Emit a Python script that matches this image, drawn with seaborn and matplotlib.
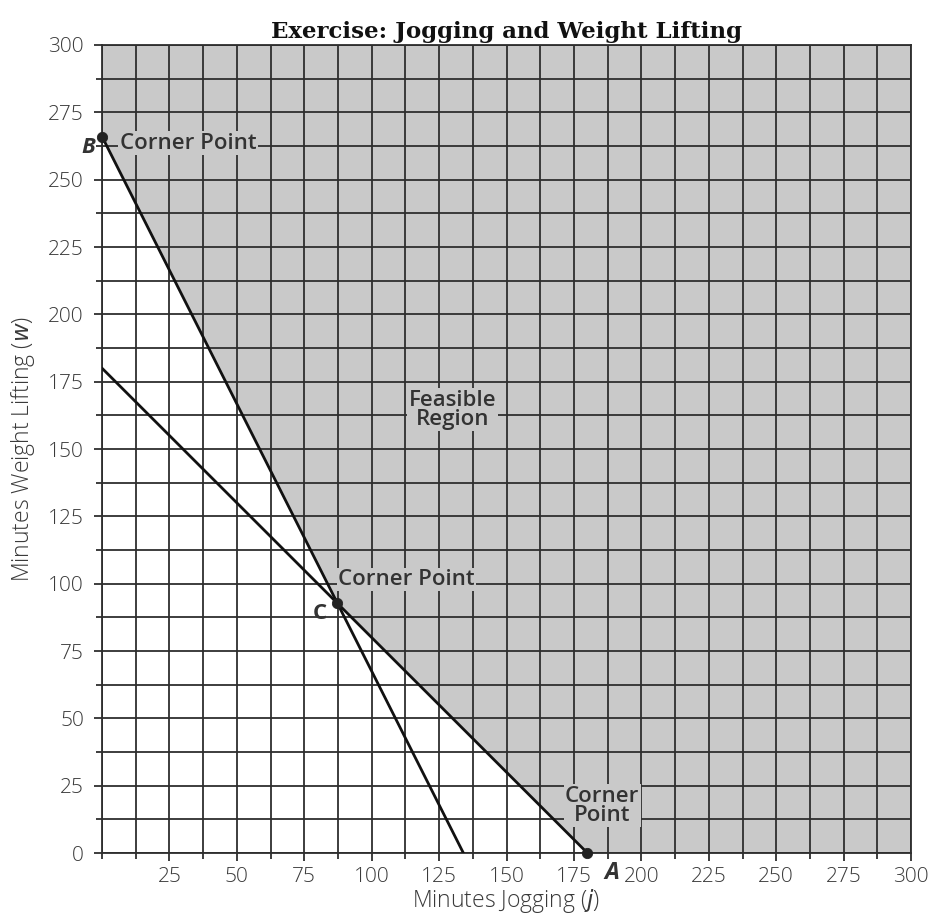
import numpy as np
import pandas as pd
import matplotlib
matplotlib.use("Agg")
import matplotlib.pyplot as plt
from matplotlib.ticker import MultipleLocator
import seaborn as sns

# Constraint lines (minutes jogging j, minutes weight lifting w)
line1_j = [0, 134]
line1_w = [266, 0]
line2_j = [0, 180]
line2_w = [180, 0]

# Corner points of the feasible region
corner_names = ["A", "B", "C"]
corner_j = [180, 0, 87]
corner_w = [0, 266, 93]

x_ticks = [25, 50, 75, 100, 125, 150, 175, 200, 225, 250, 275, 300]
y_ticks = [0, 25, 50, 75, 100, 125, 150, 175, 200, 225, 250, 275, 300]

SHADE = "#c9c9c9"
GRID = "#2e2e2e"
TXT = "#3a3a3a"

sns.set_theme(style="white")
plt.rcParams["font.family"] = ["Open Sans", "DejaVu Sans"]

fig = plt.figure(figsize=(9.37, 9.22), dpi=100)
ax = fig.add_axes([0.1089, 0.0748, 0.8634, 0.8764])

# Feasible region: above both constraint lines
bj = [corner_j[1], corner_j[2], corner_j[0], 300]
bw = [corner_w[1], corner_w[2], corner_w[0], 0]
ax.fill_between(bj, bw, 300, color=SHADE, linewidth=0, zorder=0)

ax.set_xlim(0, 300)
ax.set_ylim(0, 300)
ax.xaxis.set_major_locator(MultipleLocator(25))
ax.yaxis.set_major_locator(MultipleLocator(25))
ax.xaxis.set_minor_locator(MultipleLocator(12.5))
ax.yaxis.set_minor_locator(MultipleLocator(12.5))
ax.grid(True, which="both", color=GRID, linewidth=1.3, zorder=1)
ax.set_axisbelow(True)
for s in ax.spines.values():
    s.set_color(GRID)
    s.set_linewidth(1.3)

ax.set_xticks(x_ticks)
ax.set_xticklabels([str(t) for t in x_ticks])
ax.set_yticks(y_ticks)
ax.set_yticklabels([str(t) for t in y_ticks])
ax.tick_params(axis="both", which="major", direction="out", length=6, width=1.3,
               color=GRID, labelsize=15, labelcolor=TXT, bottom=True, left=True, pad=4)
ax.tick_params(axis="y", which="major", pad=7)
ax.tick_params(axis="both", which="minor", direction="out", length=4, width=1.3,
               color=GRID, bottom=True, left=True)
for t in ax.get_xticklabels() + ax.get_yticklabels():
    t.set_fontweight(300)

lines = pd.DataFrame({
    "j": line1_j + line2_j,
    "w": line1_w + line2_w,
    "constraint": ["1", "1", "2", "2"],
})
sns.lineplot(data=lines, x="j", y="w", units="constraint", estimator=None,
             color="#111111", linewidth=2.0, ax=ax, zorder=4, legend=False)

pts = pd.DataFrame({"j": corner_j, "w": corner_w, "name": corner_names})
sns.scatterplot(data=pts, x="j", y="w", color="#222222", s=55, edgecolor="#222222",
                ax=ax, zorder=6, clip_on=False, legend=False)

ax.set_xlabel("Minutes Jogging ($\\it{j}$)", fontsize=16.5, color=TXT, labelpad=0,
              fontweight=300)
ax.set_ylabel("Minutes Weight Lifting ($\\it{w}$)", fontsize=16.5, color=TXT, labelpad=8,
              fontweight=300)

box = dict(facecolor=SHADE, edgecolor="none", pad=1.0)
lab = dict(fontsize=16, fontweight=600, color="#333333", zorder=5)

ax.text(6.5, 263.5, "Corner Point", ha="left", va="center", bbox=box, **lab)
ax.text(87.5, 101.5, "Corner Point", ha="left", va="center", bbox=box, **lab)
ax.text(130, 164.5, "Feasible\nRegion", ha="center", va="center", linespacing=0.9,
        bbox=box, **lab)
ax.text(185.5, 17.5, "Corner\nPoint", ha="center", va="center", linespacing=0.9,
        bbox=box, **lab)

# Corner point letters
ax.text(-2.5, 262, corner_names[1], ha="right", va="center", fontsize=16,
        fontweight="bold", style="italic", color="#333333", clip_on=False)
ax.text(83.5, 89, corner_names[2], ha="right", va="center", fontsize=16,
        fontweight="bold", color="#333333", zorder=5)
ax.text(189, -7.5, corner_names[0], ha="center", va="center", fontsize=17,
        fontweight="bold", style="italic", color="#333333", clip_on=False)

ax.set_title("Exercise: Jogging and Weight Lifting", fontsize=16.5, fontweight="bold",
             family=["DejaVu Serif"], color="#111111", pad=5)

fig.savefig("out.png", dpi=100)
